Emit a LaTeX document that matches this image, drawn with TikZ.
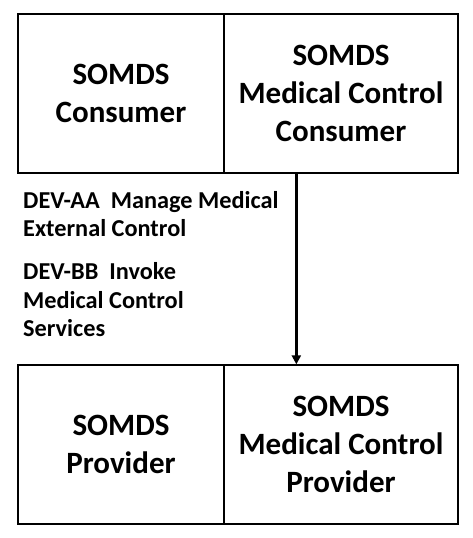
\documentclass[tikz,border=0pt]{standalone}
\usepackage{fontspec}
\setmainfont{Carlito}
\usetikzlibrary{arrows.meta}
\begin{document}
\begin{tikzpicture}[x=1pt,y=1pt,
  box/.style={draw=black, line width=1.3pt, inner sep=0pt, align=center,
    font=\fontsize{31}{38.3}\selectfont\bfseries},
  lbl/.style={inner sep=0pt, align=left, anchor=base west,
    font=\fontsize{24.3}{28.4}\selectfont\bfseries},
  arrow/.style={line width=2.7pt, -{Triangle[length=9pt,width=9pt]}}]
\useasboundingbox (0,0) rectangle (473,-538);
\fill[white] (0,0) rectangle (473,-538);
\node[box, minimum width=206pt, minimum height=159pt] (c1) at (121,-93.5) {SOMDS\\Consumer};
\node[box, minimum width=234pt, minimum height=159pt] (c2) at (341,-93.5) {SOMDS\\Medical Control\\Consumer};
\node[box, minimum width=206pt, minimum height=159pt] (p1) at (121,-444.5) {SOMDS\\Provider};
\node[box, minimum width=234pt, minimum height=159pt] (p2) at (341,-444.5) {SOMDS\\Medical Control\\Provider};
\draw[arrow] ([xshift=73pt]c2.south west) -- ([xshift=73pt]p2.north west);
\node[lbl] (l1) at (23,-236.7) {DEV-AA\ \ Manage Medical\\External Control};
\node[lbl] (l2) at (23,-336.7) {DEV-BB\ \ Invoke\\Medical Control\\Services};
\end{tikzpicture}
\end{document}
